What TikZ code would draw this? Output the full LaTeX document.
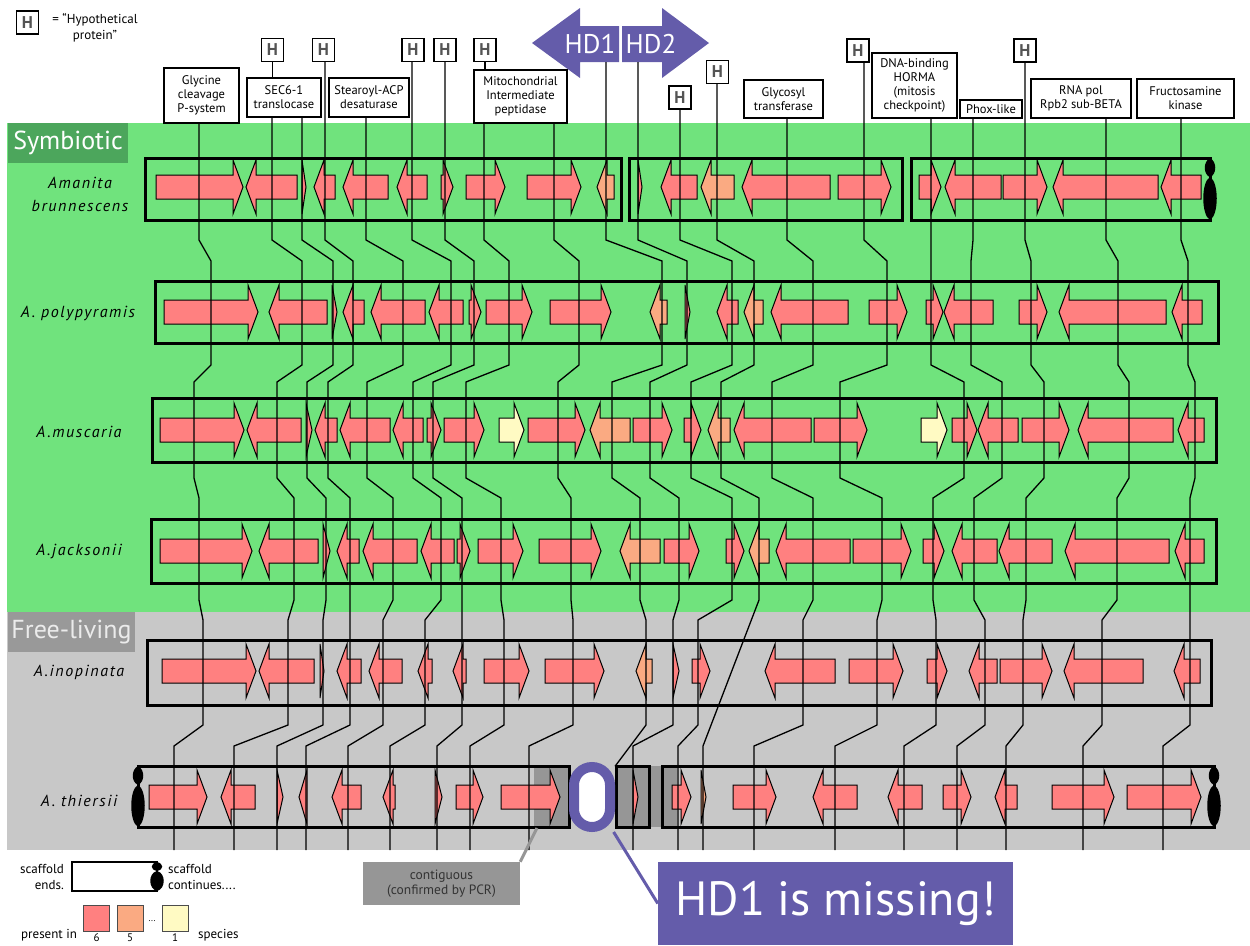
\documentclass[tikz,border=0pt]{standalone}
\usepackage{fontspec}
\setmainfont{PT Sans}
\newfontfamily\spacedfont[LetterSpace=10]{PT Sans}
\usetikzlibrary{positioning}

\definecolor{bandgreen}{RGB}{112,227,125}
\definecolor{symbgreen}{RGB}{76,166,92}
\definecolor{bandgray}{RGB}{200,200,200}
\definecolor{freegray}{RGB}{153,153,153}
\definecolor{contiggray}{RGB}{150,150,150}
\definecolor{g6}{RGB}{255,128,128}
\definecolor{g5}{RGB}{250,170,130}
\definecolor{g1}{RGB}{255,250,195}
\definecolor{hdpurple}{RGB}{100,92,170}

% one gene: start, end, row y, R/L, colour
\newcommand\gene[5]{%
  \pgfmathsetmacro\headlen{min(10,#2-#1)}%
  \if#4R
    \filldraw[genebox,fill=#5] (#1,#3-12) -- (#2-\headlen,#3-12) -- (#2-\headlen,#3-27) -- (#2,#3) -- (#2-\headlen,#3+27) -- (#2-\headlen,#3+12) -- (#1,#3+12) -- cycle;
  \else
    \filldraw[genebox,fill=#5] (#2,#3-12) -- (#1+\headlen,#3-12) -- (#1+\headlen,#3-27) -- (#1,#3) -- (#1+\headlen,#3+27) -- (#1+\headlen,#3+12) -- (#2,#3+12) -- cycle;
  \fi}

% scaffold continues: x, top, bottom
\newcommand\scafmore[3]{%
  \fill (#1,#2) .. controls (#1+7,{#2+0.06*(#3-#2)}) and (#1+7,{#2+0.26*(#3-#2)}) .. (#1,{#2+0.31*(#3-#2)})
    .. controls (#1+9,{#2+0.38*(#3-#2)}) and (#1+9,{#2+0.92*(#3-#2)}) .. (#1,#3)
    .. controls (#1-9,{#2+0.92*(#3-#2)}) and (#1-9,{#2+0.38*(#3-#2)}) .. (#1,{#2+0.31*(#3-#2)})
    .. controls (#1-7,{#2+0.26*(#3-#2)}) and (#1-7,{#2+0.06*(#3-#2)}) .. (#1,#2) -- cycle;}

\begin{document}
\begin{tikzpicture}[x=1pt, y=-1pt,
  genebox/.style={draw=black, line width=1},
  locus/.style={line width=1.3},
  scaffold/.style={draw, line width=3},
  lbl/.style={draw, fill=white, line width=1.2, align=center, inner sep=0.5, font=\fontsize{12.5}{14}\selectfont},
  hyp/.style={draw, fill=white, line width=1.2, minimum width=22, minimum height=23, inner sep=0, font=\fontsize{17}{17}\selectfont\bfseries, text=black!67},
  species/.style={align=center, font=\spacedfont\itshape\fontsize{16}{23}\selectfont},
  group/.style={inner sep=0, text=white, font=\fontsize{26}{26}\selectfont},
  hdtext/.style={inner sep=0, text=white, font=\fontsize{27}{27}\selectfont},
  keytext/.style={inner sep=0, font=\fontsize{13}{16}\selectfont},
  swatch/.style={draw=black!70, line width=0.8, minimum size=26, inner sep=0}]
  \useasboundingbox (0,0) rectangle (1250,945);

  % bands
  \fill[bandgreen] (7,123) rectangle (1250,612);
  \fill[bandgray] (7,612) rectangle (1250,850);
  \node[group, fill=symbgreen, minimum width=120, minimum height=40] (symb) at (68,143) {Symbiotic};
  \node[group, fill=freegray, text=white!92!black, minimum width=127, minimum height=40] (free) at (71.5,632) {Free-living};

  % species
  \node[species] (brun) at (80,194) {Amanita\\brunnescens};
  \node[species] (poly) at (78,313) {A. polypyramis};
  \node[species] (musc) at (79,432) {A.muscaria};
  \node[species] (jack) at (79,551) {A.jacksonii};
  \node[species] (inop) at (79,672) {A.inopinata};
  \node[species] (thie) at (79,801) {A. thiersii};

  % scaffolds
  \fill[contiggray] (534,766) rectangle (569,827);
  \fill[contiggray] (616,766) rectangle (677,827);
  \draw[scaffold] (145,158) rectangle (621,220) (629,158) rectangle (902,220) (911,158) rectangle (1210,220);
  \draw[scaffold] (155,281) rectangle (1218,343);
  \draw[scaffold] (152,398) rectangle (1216,462);
  \draw[scaffold] (151,519) rectangle (1216,583);
  \draw[scaffold] (147,640) rectangle (1211,705);
  \draw[scaffold] (138,766) rectangle (569,827) (616,766) rectangle (649,827) (662,766) rectangle (1214,827);
  \scafmore{1210}{158}{220}
  \scafmore{138}{766}{827}
  \scafmore{1214}{766}{827}

  % genes
  \foreach \gs/\ge/\gd/\gc in {156/243/R/g6, 246/297/L/g6, 302/306/R/g6, 314/335/L/g6, 343/388/L/g6,
    397/427/L/g6, 441/453/R/g6, 466/505/R/g6, 527/581/R/g6, 597/614/L/g5, 638/642/R/g6, 661/697/L/g6,
    701/734/L/g5, 742/830/L/g6, 838/891/R/g6, 919/941/R/g6, 945/1001/L/g6, 1003/1047/R/g6,
    1053/1158/L/g6, 1161/1201/L/g6}
    \gene{\gs}{\ge}{187}{\gd}{\gc};
  \foreach \gs/\ge/\gd/\gc in {164/258/R/g6, 269/327/L/g6, 332/337/R/g6, 343/364/L/g6, 371/425/L/g6,
    429/463/L/g6, 469/481/R/g6, 486/532/R/g6, 550/611/R/g6, 650/667/L/g5, 685/690/R/g6, 717/738/L/g6,
    744/763/L/g5, 771/848/L/g6, 869/907/R/g6, 926/943/R/g6, 944/993/L/g6, 1019/1047/R/g6,
    1059/1166/L/g6, 1172/1202/L/g6}
    \gene{\gs}{\ge}{312}{\gd}{\gc};
  \foreach \gs/\ge/\gd/\gc in {160/244/R/g6, 247/301/L/g6, 306/312/R/g6, 315/337/L/g6, 340/390/L/g6,
    393/423/L/g6, 427/441/R/g6, 444/484/R/g6, 499/524/R/g1, 528/585/R/g6, 590/630/L/g5, 633/672/R/g6,
    684/701/R/g6, 708/730/L/g5, 734/811/L/g6, 814/867/R/g6, 921/947/R/g1, 952/977/R/g6,
    978/1018/L/g6, 1022/1069/R/g6, 1078/1173/L/g6, 1178/1204/L/g6}
    \gene{\gs}{\ge}{430}{\gd}{\gc};
  \foreach \gs/\ge/\gd/\gc in {160/252/R/g6, 259/318/L/g6, 323/330/R/g6, 337/359/L/g6, 363/417/L/g6,
    421/454/L/g6, 457/470/R/g6, 478/523/R/g6, 539/601/R/g6, 620/660/L/g5, 664/699/R/g6, 726/744/R/g6,
    749/769/L/g5, 776/850/L/g6, 853/911/R/g6, 923/944/R/g6, 952/997/L/g6, 999/1052/L/g6,
    1065/1169/L/g6, 1175/1204/L/g6}
    \gene{\gs}{\ge}{551}{\gd}{\gc};
  \foreach \gs/\ge/\gd/\gc in {162/256/R/g6, 259/314/L/g6, 320/324/R/g6, 337/361/L/g6, 369/402/L/g6,
    418/432/L/g6, 453/466/L/g6, 484/529/R/g6, 545/604/R/g6, 636/652/L/g5, 673/679/R/g6, 692/710/R/g6,
    765/835/L/g6, 849/903/R/g6, 927/947/R/g6, 969/997/L/g6, 1000/1052/R/g6, 1064/1143/L/g6,
    1174/1200/L/g6}
    \gene{\gs}{\ge}{671}{\gd}{\gc};
  \foreach \gs/\ge/\gd/\gc in {149/207/R/g6, 221/255/L/g6, 277/283/R/g6, 299/307/L/g6, 332/361/L/g6,
    383/395/L/g6, 435/442/R/g6, 456/483/R/g6, 501/560/R/g6, 633/638/R/g6, 672/691/R/g6, 701/706/R/g5,
    733/776/R/g6, 813/857/L/g6, 888/922/L/g6, 943/971/R/g6, 995/1017/L/g6, 1052/1114/R/g6,
    1127/1201/R/g6}
    \gene{\gs}{\ge}{797}{\gd}{\gc};

  % gene names
  \node[lbl, minimum width=75, minimum height=55] (glyc) at (201.5,95.5) {Glycine\\cleavage\\P-system};
  \node[lbl, minimum width=74, minimum height=39] (sec) at (284,97.5) {SEC6-1\\translocase};
  \node[lbl, minimum width=80, minimum height=39] (stear) at (369,97.5) {Stearoyl-ACP\\desaturase};
  \node[lbl, minimum width=93, minimum height=53] (mito) at (520.5,96.5) {Mitochondrial\\Intermediate\\peptidase};
  \node[lbl, minimum width=79, minimum height=38] (glyco) at (783.5,99) {Glycosyl\\transferase};
  \node[lbl, minimum width=85, minimum height=65] (dna) at (914.5,85.5) {DNA-binding\\HORMA\\(mitosis\\checkpoint)};
  \node[lbl, minimum width=62, minimum height=18] (phox) at (991,109) {Phox-like};
  \node[lbl, minimum width=100, minimum height=39] (rna) at (1081,98.5) {RNA pol\\Rpb2 sub-BETA};
  \node[lbl, minimum width=97, minimum height=39] (fruc) at (1185.5,98.5) {Fructosamine\\kinase};
  \node[hyp] (h1) at (272.5,50) {H};
  \node[hyp] (h2) at (323.5,50) {H};
  \node[hyp] (h3) at (413,50) {H};
  \node[hyp] (h4) at (445,50) {H};
  \node[hyp] (h5) at (485,50) {H};
  \node[hyp] (h6) at (680,97.5) {H};
  \node[hyp] (h7) at (717.5,72) {H};
  \node[hyp] (h8) at (858,50.5) {H};
  \node[hyp] (h9) at (1025,50.5) {H};

  % HD1 / HD2
  \fill[hdpurple] (619,26) -- (580,26) -- (580,8) -- (532,43) -- (580,78) -- (580,62) -- (619,62) -- cycle;
  \fill[hdpurple] (622,26) -- (662,26) -- (662,8) -- (709,43) -- (662,78) -- (662,62) -- (622,62) -- cycle;
  \node[hdtext] (hdone) at (590,44) {HD1};
  \node[hdtext] (hdtwo) at (651,44) {HD2};
  \coordinate (hd1) at (606,62);
  \coordinate (hd2) at (638,62);

  \node[draw=hdpurple, line width=10, fill=white, rounded corners=18, minimum width=36, minimum height=60, inner sep=0] (gap) at (592,797) {};

  % loci
  \draw[locus] (h1.south) -- (h1.south |- sec.north);
  \draw[locus] (h5.south) -- (h5.south |- mito.north);
  \foreach \src/\ta/\tb/\tc/\td/\te/\tf in {
    glyc.south/199/211/194/199/203/174,
    sec.south/272/302/277/294/288/234,
    sec.south/302/333/307/326/323/277,
    h2.south/325/353/328/350/350/306,
    stear.south/366/403/367/393/383/348,
    h3.south/412/451/413/441/425/390,
    h4.south/445/474/433/462/462/437,
    mito.south/484/509/466/501/504/470,
    mito.south/554/579/558/571/573/529,
    hd2/638/687/650/679/673/633,
    h6.south/680/732/691/732/698/678,
    glyco.south/787/813/772/813/803/754,
    h8.south/864/887/840/882/877/835,
    dna.south/931/931/964/933/936/904,
    phox.south/973/971/1002/974/985/957,
    h9.south/1025/1031/1044/1026/1023/1006,
    rna.south/1106/1118/1129/1117/1102/1083,
    fruc.south/1181/1188/1195/1190/1190/1163}
    \draw[locus] (\ta,0 |- \src) -- (\ta,240) -- (\tb,261) -- (\tb,365) -- (\tc,382) -- (\tc,478)
      -- (\td,498) -- (\td,600) -- (\te,620) -- (\te,725) -- (\tf,746) -- (\tf,850);
  \draw[locus] (606,0 |- hd1) -- (606,240) -- (662,261) -- (662,365) -- (612,382) -- (612,478)
    -- (640,498) -- (640,600) -- (646,620) -- (646,725) -- (gap);
  \draw[locus] (717,0 |- h7.south) -- (717,240) -- (754,261) -- (754,365) -- (721,382) -- (721,478)
    -- (759,498) -- (759,600) -- (703,746) -- (703,850);

  % callouts
  \node[fill=contiggray, minimum width=157, minimum height=43, align=center, inner sep=0,
    font=\fontsize{13.5}{15}\selectfont, text=black!80] (contig) at (441.5,883.5) {contiguous\\(confirmed by PCR)};
  \coordinate (pcr) at (537,828);
  \draw[contiggray, line width=3] (contig.north east) -- (pcr);
  \node[fill=hdpurple, text=white, minimum width=355, minimum height=83, inner sep=0,
    font=\fontsize{48}{48}\selectfont] (missing) at (835.5,903.5) {HD1 is missing!};
  \draw[hdpurple, line width=3] (gap) -- (missing.west);

  % key
  \node[hyp] (hkey) at (27.5,22.5) {H};
  \node[keytext, align=center] (hkeytext) at (95,28) {= “Hypothetical\\protein”};
  \node[keytext, align=right, anchor=east] (endkey) at (64,877) {scaffold\\ends.};
  \node[draw, line width=1.5, minimum width=85, minimum height=29, inner sep=0] (scafkey) at (114.5,876.5) {};
  \scafmore{157}{862}{891}
  \node[keytext, align=left, anchor=west] (morekey) at (168,877) {scaffold\\continues....};
  \node[keytext, anchor=west] (presentkey) at (21,935) {present in};
  \node[swatch, fill=g6] (sw6) at (96.5,918) {};
  \node[swatch, fill=g5] (sw5) at (130,918) {};
  \node[swatch, fill=g1] (sw1) at (175,918) {};
  \node[keytext, font=\fontsize{11}{11}\selectfont, below=2pt of sw6] (n6) {6};
  \node[keytext, font=\fontsize{11}{11}\selectfont, below=2pt of sw5] (n5) {5};
  \node[keytext, font=\fontsize{11}{11}\selectfont, below=2pt of sw1] (n1) {1};
  \node[keytext, font=\fontsize{9}{9}\selectfont] (dots) at (152,921) {...};
  \node[keytext, anchor=west] (specieskey) at (198,935) {species};
\end{tikzpicture}
\end{document}
